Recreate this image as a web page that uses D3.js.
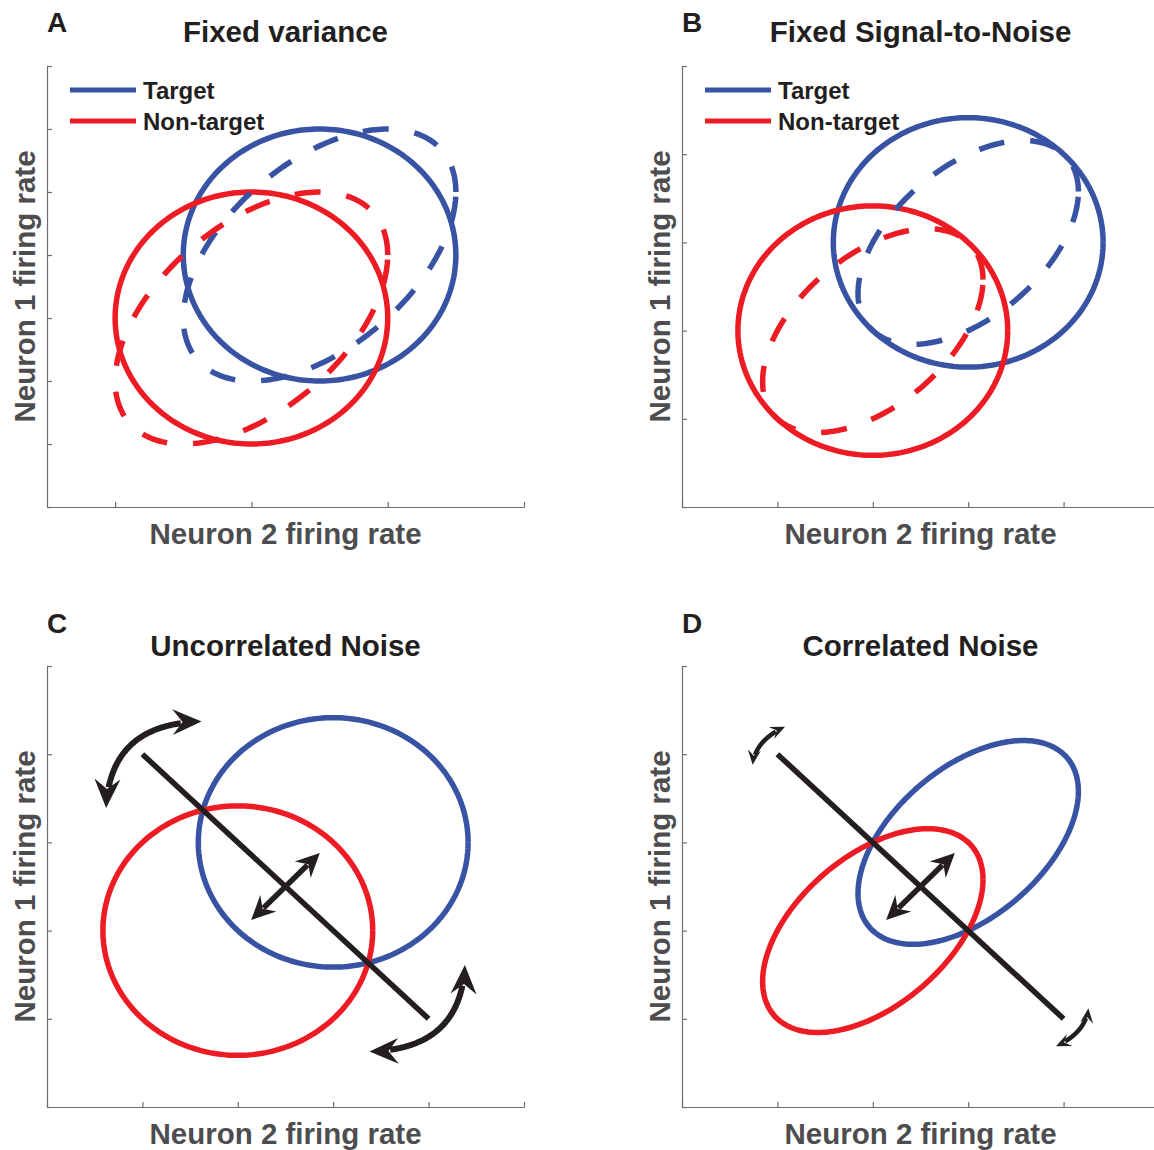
<!DOCTYPE html>
<html>
<head>
<meta charset="utf-8">
<script src="https://cdn.jsdelivr.net/npm/d3@7"></script>
<style>
  body { margin: 0; background: #fff; }
  text { font-family: "Liberation Sans", Arial, Helvetica, sans-serif; font-weight: bold; }
</style>
</head>
<body>
<svg id="fig" width="1154" height="1150"></svg>
<script>
// Four schematic panels: noise ellipses of two neurons for target / non-target

// ---- data ----
const panelLetters = ["A", "B", "C", "D"];
const panelTitles = ["Fixed variance", "Fixed Signal-to-Noise", "Uncorrelated Noise", "Correlated Noise"];
const xLabel = "Neuron 2 firing rate";
const yLabel = "Neuron 1 firing rate";
const legendLabels = ["Target", "Non-target"];

const xDomains = [[-0.5, 3], [-1, 4], [-1, 4], [-1, 4]];
const yDomains = [[-0.5, 3], [-1, 4], [-1, 4], [-1, 4]];
const xTickValues = [[0, 1, 2, 3], [-1, 0, 1, 2, 3, 4], [-1, 0, 1, 2, 3, 4], [-1, 0, 1, 2, 3, 4]];
const yTickValues = [[-0.5, 0, 0.5, 1, 1.5, 2, 2.5, 3], [-1, 0, 1, 2, 3, 4], [-1, 0, 1, 2, 3, 4], [-1, 0, 1, 2, 3, 4]];

// class means per panel
const targetMeans = [[1.5, 1.5], [2, 2], [2, 2], [2, 2]];
const nonTargetMeans = [[1, 1], [1, 1], [1, 1], [1, 1]];
// noise contours per panel: [sd neuron 2, sd neuron 1, correlation]
const independentNoise = [[1, 1, 0], [1.414, 1.414, 0], [1.414, 1.414, 0], null];
const correlatedNoise = [[1, 1, 0.5], [1.155, 1.155, 0.5], null, [1.155, 1.155, 0.5]];

// decision line and arrows (panels C and D)
const decisionLine = [[0, 3], [3, 0]];
const shiftArrow = [[1.14, 1.12], [1.86, 1.88]];
// rotation arrows: [start, bend, end]
const rotationArcsC = [
  [[-0.38, 2.39], [-0.34, 3.35], [0.62, 3.37]],
  [[3.38, 0.61], [3.34, -0.35], [2.38, -0.37]]
];
const rotationArcsD = [
  [[-0.26, 2.88], [-0.23, 3.16], [0.08, 3.31]],
  [[3.26, 0.12], [3.23, -0.16], [2.92, -0.31]]
];

// ---- layout ----
const blue = "#3953a4", red = "#ed1c24", ink = "#231f20", grey = "#4d4d4f", axisGrey = "#6d6e71";
const plotW = 477, plotH = 441;
const origins = [[47, 66], [682, 66], [47, 666], [682, 666]];
const lw = 5.5;

const svg = d3.select("#fig");

function ellipsePoints(mean, noise, x, y) {
  const [sx, sy, rho] = noise;
  const c = Math.sqrt(1 - rho * rho);
  return d3.range(0, 241).map(i => {
    const t = i / 240 * 2 * Math.PI;
    return [x(mean[0] + sx * Math.cos(t)), y(mean[1] + sy * (rho * Math.cos(t) + c * Math.sin(t)))];
  });
}

function headPath(tip, dir, L, W, notch) {
  const n = Math.hypot(dir[0], dir[1]);
  const u = [dir[0] / n, dir[1] / n], p = [-u[1], u[0]];
  const pts = [
    tip,
    [tip[0] - u[0] * L + p[0] * W / 2, tip[1] - u[1] * L + p[1] * W / 2],
    [tip[0] - u[0] * notch, tip[1] - u[1] * notch],
    [tip[0] - u[0] * L - p[0] * W / 2, tip[1] - u[1] * L - p[1] * W / 2]
  ];
  return "M" + pts.map(q => q.join(",")).join("L") + "Z";
}

// trim a polyline by arc length at both ends
function trimLine(pts, d0, d1) {
  const cum = [0];
  for (let i = 1; i < pts.length; i++) cum.push(cum[i - 1] + Math.hypot(pts[i][0] - pts[i - 1][0], pts[i][1] - pts[i - 1][1]));
  const total = cum[cum.length - 1];
  return pts.filter((q, i) => cum[i] >= d0 && cum[i] <= total - d1);
}

function drawArrow(g, p0, c, p2, x, y, opt) {
  const P0 = [x(p0[0]), y(p0[1])], C = [x(c[0]), y(c[1])], P2 = [x(p2[0]), y(p2[1])];
  const pts = d3.range(0, 101).map(i => {
    const t = i / 100, a = (1 - t) * (1 - t), b = 2 * t * (1 - t), d = t * t;
    return [a * P0[0] + b * C[0] + d * P2[0], a * P0[1] + b * C[1] + d * P2[1]];
  });
  g.append("path")
    .attr("d", d3.line()(trimLine(pts, opt.notch + 1, opt.notch + 1)))
    .attr("fill", "none").attr("stroke", ink).attr("stroke-width", opt.sw);
  g.append("path").attr("d", headPath(P0, [P0[0] - C[0], P0[1] - C[1]], opt.L, opt.W, opt.notch)).attr("fill", ink);
  g.append("path").attr("d", headPath(P2, [P2[0] - C[0], P2[1] - C[1]], opt.L, opt.W, opt.notch)).attr("fill", ink);
}

panelLetters.forEach((letter, i) => {
  const [left, top] = origins[i];
  const bottom = top + plotH;
  const g = svg.append("g");

  const x = d3.scaleLinear().domain(xDomains[i]).range([left, left + plotW]);
  const y = d3.scaleLinear().domain(yDomains[i]).range([bottom, top]);

  // axes, ticks pointing inward
  const xa = g.append("g").attr("transform", `translate(0,${bottom})`)
    .call(d3.axisBottom(x).tickValues(xTickValues[i]).tickSizeInner(-5).tickSizeOuter(0).tickFormat(""));
  const ya = g.append("g").attr("transform", `translate(${left},0)`)
    .call(d3.axisLeft(y).tickValues(yTickValues[i]).tickSizeInner(-5).tickSizeOuter(0).tickFormat(""));
  [xa, ya].forEach(a => {
    a.select(".domain").attr("stroke", axisGrey).attr("stroke-width", 1.2);
    a.selectAll(".tick line").attr("stroke", axisGrey).attr("stroke-width", 1.2);
  });

  const line = d3.line();
  const hasBoth = independentNoise[i] && correlatedNoise[i];

  // solid contours
  const solid = independentNoise[i] || correlatedNoise[i];
  g.append("path").attr("d", line(ellipsePoints(targetMeans[i], solid, x, y)))
    .attr("fill", "none").attr("stroke", blue).attr("stroke-width", lw);
  g.append("path").attr("d", line(ellipsePoints(nonTargetMeans[i], solid, x, y)))
    .attr("fill", "none").attr("stroke", red).attr("stroke-width", lw);

  // dashed contours when both noise models are shown
  if (hasBoth) {
    g.append("path").attr("d", line(ellipsePoints(targetMeans[i], correlatedNoise[i], x, y)))
      .attr("fill", "none").attr("stroke", blue).attr("stroke-width", lw).attr("stroke-dasharray", "26,26");
    g.append("path").attr("d", line(ellipsePoints(nonTargetMeans[i], correlatedNoise[i], x, y)))
      .attr("fill", "none").attr("stroke", red).attr("stroke-width", lw).attr("stroke-dasharray", "26,26");
  }

  // decision line with arrows
  if (i >= 2) {
    g.append("path").attr("d", line(decisionLine.map(d => [x(d[0]), y(d[1])])))
      .attr("stroke", ink).attr("stroke-width", lw).attr("fill", "none");
    const mid = [(shiftArrow[0][0] + shiftArrow[1][0]) / 2, (shiftArrow[0][1] + shiftArrow[1][1]) / 2];
    drawArrow(g, shiftArrow[0], mid, shiftArrow[1], x, y, { L: 24, W: 23, notch: 16, sw: 5.5 });
    const arcs = i === 2 ? rotationArcsC : rotationArcsD;
    const opt = i === 2 ? { L: 29, W: 26, notch: 19, sw: 6 } : { L: 15, W: 13, notch: 9, sw: 4.5 };
    arcs.forEach(a => drawArrow(g, a[0], a[1], a[2], x, y, opt));
  }

  // legend in A and B
  if (i < 2) {
    [blue, red].forEach((col, k) => {
      const ly = top + 24 + k * 31;
      g.append("line").attr("x1", left + 23).attr("x2", left + 89).attr("y1", ly).attr("y2", ly)
        .attr("stroke", col).attr("stroke-width", 5);
      g.append("text").attr("x", left + 96).attr("y", ly + 8.5)
        .attr("font-size", 24).attr("fill", ink).text(legendLabels[k]);
    });
  }

  // texts
  g.append("text").attr("x", left).attr("y", top - 34 + (i >= 2 ? 1 : 0))
    .attr("font-size", 28).attr("fill", ink).text(letter);
  g.append("text").attr("x", left + plotW / 2).attr("y", i < 2 ? top - 24 : top - 10)
    .attr("text-anchor", "middle").attr("font-size", 29.5).attr("fill", ink).text(panelTitles[i]);
  g.append("text").attr("x", left + plotW / 2).attr("y", bottom + 37)
    .attr("text-anchor", "middle").attr("font-size", 29.5).attr("fill", grey).text(xLabel);
  g.append("text").attr("transform", `translate(${left - 12},${top + plotH / 2}) rotate(-90)`)
    .attr("text-anchor", "middle").attr("font-size", 29.5).attr("fill", grey).text(yLabel);
});
</script>
</body>
</html>
